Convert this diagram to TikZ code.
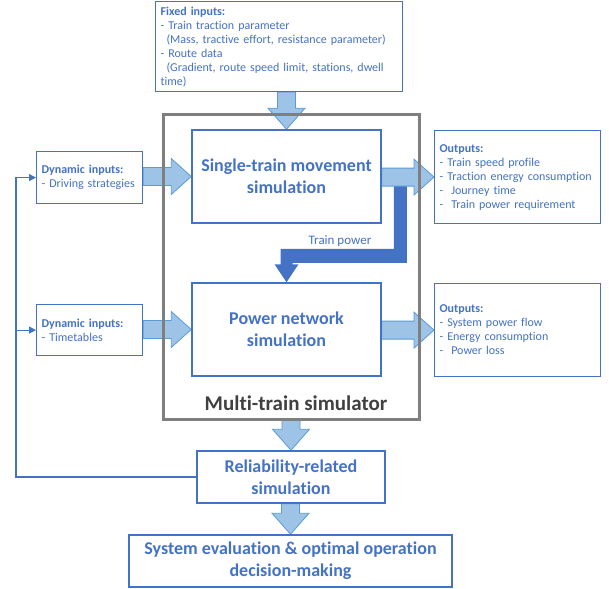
\documentclass[tikz,border=0pt]{standalone}
\usepackage{fontspec}
\setmainfont{Carlito}[Ligatures=NoCommon]
\usetikzlibrary{calc,arrows.meta,backgrounds}
\definecolor{boxblue}{RGB}{68,114,196}
\definecolor{arrowfill}{RGB}{157,195,230}
\definecolor{arrowline}{RGB}{91,155,213}
\definecolor{simgray}{RGB}{127,127,127}
\definecolor{simtext}{RGB}{64,64,64}

\tikzset{
  simbox/.style={draw=boxblue, line width=1.5pt, fill=white, text=boxblue,
    font=\fontsize{18}{22}\selectfont\bfseries, align=center, inner sep=0pt},
  infobox/.style={draw=boxblue, line width=1.2pt, fill=white, text=boxblue,
    font=\fontsize{12}{14}\selectfont, align=left, inner sep=5pt, anchor=north west},
  blockarrow/.style={draw=arrowline, line width=0.8pt, fill=arrowfill, line join=miter},
  feedback/.style={draw=boxblue, line width=1.2pt, -{Triangle[length=7pt,width=7pt]}},
}

% light block arrows between named nodes
\newcommand{\rightblock}[2]{%
  \path[blockarrow] let \p1=(#1.east), \p2=(#2.west) in
    (\x1,\y2+9pt) -- (\x2-20pt,\y2+9pt) -- (\x2-20pt,\y2+18pt) -- (\x2,\y2)
    -- (\x2-20pt,\y2-18pt) -- (\x2-20pt,\y2-9pt) -- (\x1,\y2-9pt) -- cycle;}
\newcommand{\downblock}[2]{%
  \path[blockarrow] let \p1=(#1.south), \p2=(#2.north) in
    (\x2-9pt,\y1) -- (\x2-9pt,\y2+21pt) -- (\x2-18.5pt,\y2+21pt) -- (\x2,\y2)
    -- (\x2+18.5pt,\y2+21pt) -- (\x2+9pt,\y2+21pt) -- (\x2+9pt,\y1) -- cycle;}

\begin{document}
\begin{tikzpicture}[x=1pt, y=-1pt]
    \useasboundingbox (0,0) rectangle (609,588);

    % Fixed inputs
    \node[infobox, text width=237pt, minimum height=90pt] (fixed) at (155,1) {
        \textbf{Fixed inputs:} \\
        - Train traction parameter \\
        \hspace{0.5em}(Mass, tractive effort, resistance parameter) \\
        - Route data \\
        \hspace{0.5em}(Gradient, route speed limit, stations, dwell \\
        time)
    };

    % Multi-train simulator frame
    \node[draw=simgray, line width=3pt, minimum width=256pt, minimum height=304pt] (multisim) at (291,267) {};
    \node[text=simtext, font=\fontsize{21}{24}\selectfont\bfseries] (simlabel) at (296,403) {Multi-train simulator};

    % Simulation blocks
    \node[simbox, minimum width=189pt, minimum height=93pt] (single) at (286.5,176.5) {Single-train movement\\simulation};
    \node[simbox, minimum width=189pt, minimum height=93pt] (power) at (286.5,329.5) {Power network\\simulation};
    \node[simbox, minimum width=188pt, minimum height=52pt] (reli) at (291,477) {Reliability-related\\simulation};
    \node[simbox, minimum width=323pt, minimum height=52pt] (evalbox) at (290.5,561) {System evaluation \& optimal operation\\decision-making};

    % Dynamic inputs
    \node[infobox, text width=96pt, minimum height=52pt] (dyn1) at (36,151) {
        \textbf{Dynamic inputs:} \\
        - Driving strategies
    };
    \node[infobox, text width=96pt, minimum height=51pt] (dyn2) at (36,304) {
        \textbf{Dynamic inputs:} \\
        - Timetables
    };

    % Outputs
    \node[infobox, text width=156pt, minimum height=93pt] (out1) at (434,130) {
        \textbf{Outputs:} \\
        - Train speed profile \\
        - Traction energy consumption \\
        -\ \ Journey time \\
        -\ \ Train power requirement
    };
    \node[infobox, text width=156pt, minimum height=93pt] (out2) at (434,283) {
        \textbf{Outputs:} \\
        - System power flow \\
        - Energy consumption \\
        -\ \ Power loss
    };

    \node[text=boxblue, font=\fontsize{13}{15}\selectfont] (powerlabel) at (340,241) {Train power};

    % Arrows behind the boxes
    \begin{pgfonlayer}{background}
        \fill[boxblue] let \p1=(single.south east), \p2=(power.north) in
            (\x1+12pt,\y1+39pt) -- (\x1+25pt,\y1+39pt) -- (\x1+25pt,\y1-39pt)
            -- (\x2+6pt,\y1-39pt) -- (\x2+6pt,\y2+18pt) -- (\x2+12pt,\y2+18pt) -- (\x2,\y2)
            -- (\x2-12pt,\y2+18pt) -- (\x2-6pt,\y2+18pt) -- (\x2-6pt,\y1-25pt)
            -- (\x1+12pt,\y1-25pt) -- cycle;
        \downblock{fixed}{single}
        \rightblock{dyn1}{single}
        \rightblock{dyn2}{power}
        \rightblock{single}{out1}
        \rightblock{power}{out2}
        \downblock{multisim}{reli}
        \downblock{reli}{evalbox}
    \end{pgfonlayer}

    % Feedback loop
    \coordinate (fbleft) at (16,477);
    \draw[feedback] (reli.west) -| (dyn1.west -| fbleft) -- (dyn1.west);
    \draw[feedback] (dyn2.west -| fbleft) -- (dyn2.west);
\end{tikzpicture}
\end{document}
